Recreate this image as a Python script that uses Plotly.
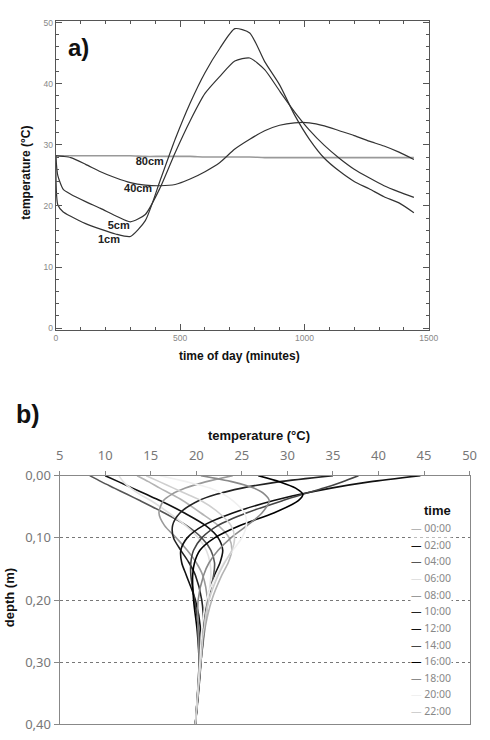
import plotly.graph_objects as go

W, H = 490, 740

# ---------------- panel a data ----------------
time_min = [0, 8, 30, 60, 120, 180, 240, 300, 360, 420, 480, 540, 600, 660, 720,
            780, 840, 900, 960, 1020, 1080, 1140, 1200, 1260, 1320, 1380, 1440]
t_1cm = [28.2, 20.2, 19.0, 18.3, 17.1, 16.2, 15.4, 15.0, 17.6, 24.2, 30.9, 36.8, 41.8, 45.8, 49.0,
         48.3, 43.6, 39.8, 34.9, 30.9, 27.8, 25.7, 24.0, 22.8, 21.5, 20.5, 18.9]
t_5cm = [28.2, 25.0, 22.7, 21.9, 20.7, 19.6, 18.4, 17.4, 18.6, 23.0, 28.7, 33.9, 38.4, 41.2, 43.7,
         44.2, 42.3, 38.8, 35.4, 32.4, 29.9, 27.8, 26.0, 24.6, 23.3, 22.3, 21.4]
t_40cm = [28.2, 28.2, 28.1, 27.9, 26.8, 25.6, 24.6, 23.8, 23.4, 23.3, 23.5, 24.4, 25.6, 27.1, 29.3,
          30.9, 32.3, 33.2, 33.6, 33.6, 33.1, 32.3, 31.5, 30.6, 29.8, 28.8, 27.6]
t_80cm = [28.2, 28.2, 28.2, 28.2, 28.2, 28.2, 28.2, 28.2, 28.1, 28.1, 28.1, 28.1, 28.0, 28.0, 28.0,
          28.0, 27.9, 27.9, 27.9, 27.9, 27.9, 27.9, 27.9, 27.9, 27.9, 27.9, 27.9]
depth_labels = ["<b>80cm</b>", "<b>40cm</b>", "<b>5cm</b>", "<b>1cm</b>"]
label_time = [378, 331, 253, 214]
label_temp = [27.2, 22.8, 16.6, 14.4]

# ---------------- panel b data ----------------
depth_m = [0, 0.01, 0.02, 0.03, 0.04, 0.06, 0.08, 0.10, 0.12, 0.14, 0.16, 0.20, 0.25, 0.30, 0.40]
times = ["00:00", "02:00", "04:00", "06:00", "08:00", "10:00",
         "12:00", "14:00", "16:00", "18:00", "20:00", "22:00"]
profiles = [
    [13.5, 14.8, 16.0, 17.3, 18.5, 20.5, 22.4, 23.6, 23.9, 23.5, 22.8, 21.7, 20.9, 20.5, 19.9],
    [10.0, 11.5, 13.0, 14.5, 16.0, 18.7, 21.0, 22.4, 22.9, 22.6, 22.0, 21.2, 20.7, 20.4, 19.9],
    [8.3, 9.6, 11.0, 12.4, 13.8, 16.5, 18.9, 20.6, 21.6, 22.0, 21.9, 21.3, 20.7, 20.4, 19.9],
    [11.5, 12.0, 12.8, 13.8, 15.0, 17.0, 18.8, 20.2, 21.1, 21.5, 21.6, 21.3, 20.8, 20.4, 19.9],
    [24.0, 21.0, 18.8, 17.3, 16.4, 15.9, 16.5, 17.8, 19.0, 20.0, 20.7, 21.2, 20.9, 20.5, 19.9],
    [35.0, 29.0, 25.0, 22.2, 20.3, 18.2, 17.4, 17.5, 18.3, 19.2, 19.9, 20.6, 20.8, 20.5, 19.9],
    [44.6, 39.0, 34.8, 31.4, 28.5, 24.0, 20.8, 19.0, 18.3, 18.4, 18.9, 19.9, 20.5, 20.5, 19.9],
    [37.8, 36.0, 34.0, 31.7, 29.5, 25.5, 22.4, 20.6, 19.7, 19.4, 19.4, 19.8, 20.3, 20.4, 19.9],
    [26.8, 29.2, 30.9, 31.7, 31.2, 28.5, 24.8, 22.0, 20.4, 19.8, 19.6, 19.7, 20.1, 20.3, 19.9],
    [20.5, 24.0, 26.3, 27.5, 28.0, 27.2, 25.6, 23.8, 22.4, 21.4, 20.8, 20.2, 20.2, 20.3, 19.9],
    [16.0, 19.0, 21.5, 23.0, 24.0, 25.3, 25.5, 25.0, 24.0, 23.0, 22.2, 21.1, 20.6, 20.4, 19.9],
    [14.5, 16.0, 17.5, 19.0, 20.5, 22.5, 23.8, 24.2, 23.9, 23.1, 22.4, 21.4, 20.8, 20.5, 19.9],
]
colors = ["#b4b4b4", "#111111", "#555555", "#e0e0e0", "#9a9a9a", "#222222",
          "#111111", "#444444", "#000000", "#8a8a8a", "#f0f0f0", "#cfcfcf"]
depth_ticks = [0, 0.1, 0.2, 0.3, 0.4]
depth_ticktext = ["0,00", "0,10", "0,20", "0,30", "0,40"]

fig = go.Figure()

# panel a traces
for vals, col, wd in [(t_80cm, "#999999", 1.6), (t_40cm, "#333333", 1.2),
                      (t_5cm, "#333333", 1.2), (t_1cm, "#333333", 1.2)]:
    fig.add_trace(go.Scatter(x=time_min, y=vals, mode="lines", xaxis="x", yaxis="y",
                             line=dict(color=col, width=wd, shape="spline", smoothing=0.6),
                             showlegend=False, hoverinfo="skip"))
fig.add_trace(go.Scatter(x=label_time, y=label_temp, mode="text", text=depth_labels,
                         xaxis="x", yaxis="y",
                         textfont=dict(family="Liberation Sans", size=11, color="#222"),
                         showlegend=False, hoverinfo="skip"))

# panel b traces
for name, vals, col in zip(times, profiles, colors):
    fig.add_trace(go.Scatter(x=vals, y=depth_m, mode="lines", name=name, xaxis="x2", yaxis="y2",
                             line=dict(color=col, width=1.6, shape="spline", smoothing=0.8),
                             showlegend=False))

def px_x(p):
    return p / W

def px_y(p):
    return 1 - p / H

tickfont_a = dict(family="Liberation Sans", size=8.5, color="#888")
tickfont_b = dict(family="Noto Sans", size=13, color="#777")

fig.update_layout(
    width=W, height=H, margin=dict(l=0, r=0, t=0, b=0),
    paper_bgcolor="white", plot_bgcolor="white",
    xaxis=dict(domain=[px_x(53.3), px_x(437.3)], range=[0, 1500], anchor="y",
               tickvals=[0, 500, 1000, 1500], ticks="inside", ticklen=6, tickcolor="#555",
               minor=dict(dtick=100, ticks="inside", ticklen=3, tickcolor="#555"),
               showline=True, linecolor="#555", linewidth=1, mirror="allticks",
               showgrid=False, zeroline=False, tickfont=tickfont_a),
    yaxis=dict(domain=[px_y(329), px_y(12)], range=[-0.3, 50.3], anchor="x",
               tickvals=[0, 10, 20, 30, 40, 50], ticks="inside", ticklen=6, tickcolor="#555",
               minor=dict(dtick=2, ticks="inside", ticklen=3, tickcolor="#555"),
               showline=True, linecolor="#555", linewidth=1, mirror="allticks",
               showgrid=False, zeroline=False, tickfont=tickfont_a),
    xaxis2=dict(domain=[px_x(57.3), px_x(479.3)], range=[5, 50], anchor="y2", side="top",
                dtick=5, ticks="outside", ticklen=4, tickcolor="#888", ticklabelstandoff=5,
                showline=True, linecolor="#888", linewidth=1.2, mirror=True,
                showgrid=False, zeroline=False, tickfont=tickfont_b),
    yaxis2=dict(domain=[px_y(733.3), px_y(478.3)], range=[0.4, 0], anchor="x2",
                tickvals=depth_ticks, ticktext=depth_ticktext, ticks="outside", ticklen=5,
                tickcolor="#888", showline=True, linecolor="#888", linewidth=1.2, mirror=True,
                showgrid=True, gridcolor="#777", griddash="dot", gridwidth=1,
                zeroline=False, tickfont=tickfont_b),
)

ann = []
bold = dict(family="Liberation Sans", color="#111")
common = dict(xref="paper", yref="paper", showarrow=False, xanchor="center", yanchor="middle")
ann.append(dict(text="<b>a)</b>", x=px_x(77), y=px_y(39), font=dict(size=24, **bold), **common))
ann.append(dict(text="<b>temperature (°C)</b>", x=px_x(22.5), y=px_y(168), textangle=-90,
                font=dict(size=12, **bold), **common))
ann.append(dict(text="<b>time of day (minutes)</b>", x=px_x(242), y=px_y(356),
                font=dict(size=12, **bold), **common))
ann.append(dict(text="<b>b)</b>", x=px_x(25), y=px_y(415), font=dict(size=25, **bold), **common))
ann.append(dict(text="<b>temperature (°C)</b>", x=px_x(263), y=px_y(437),
                font=dict(size=13, **bold), **common))
ann.append(dict(text="<b>depth (m)</b>", x=px_x(6), y=px_y(603), textangle=-90,
                font=dict(size=13, **bold), **common))
ann.append(dict(text="<b>time</b>", x=px_x(446), y=px_y(514), font=dict(size=13, **bold), **common))
for i, (name, col) in enumerate(zip(times, colors)):
    ann.append(dict(text=f"<span style='color:{col}'>—</span> {name}",
                    x=px_x(418), y=px_y(532 + i * 17.05), xref="paper", yref="paper",
                    xanchor="left", yanchor="middle", showarrow=False, bgcolor="white",
                    borderpad=0, font=dict(family="Noto Sans", size=10.5, color="#888")))
fig.update_layout(annotations=ann)

fig.write_html("out.html", config={"displayModeBar": False},
               post_script="document.body.style.margin='0px';")
